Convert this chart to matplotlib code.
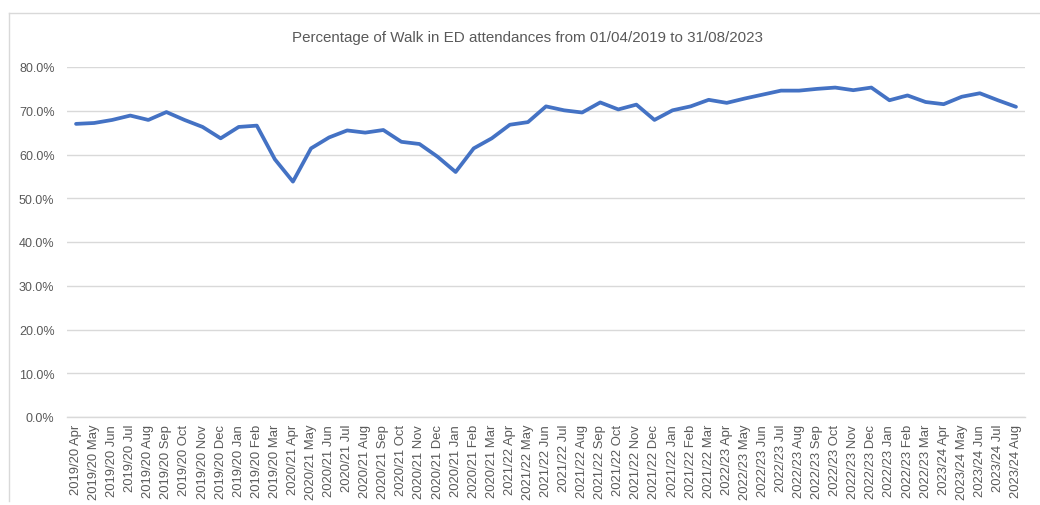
import matplotlib.pyplot as plt
from matplotlib.lines import Line2D
from matplotlib.ticker import PercentFormatter

# fiscal years and months for the category axis
fiscal_years = ["2019/20", "2020/21", "2021/22", "2022/23", "2023/24"]
months = ["Apr", "May", "Jun", "Jul", "Aug", "Sep", "Oct", "Nov", "Dec", "Jan", "Feb", "Mar"]
n_months = 53

labels = [f"{fy} {m}" for fy in fiscal_years for m in months][:n_months]

# percentage of walk in ED attendances
walk_in_pct = [
    67.0, 67.2, 67.9, 68.9, 67.9, 69.7, 67.9, 66.3, 63.7, 66.3, 66.6, 58.9,
    53.8, 61.4, 63.9, 65.5, 65.0, 65.6, 62.9, 62.4, 59.5, 56.0, 61.4, 63.7,
    66.8, 67.4, 71.0, 70.1, 69.6, 71.9, 70.3, 71.4, 67.9, 70.1, 71.0, 72.5,
    71.8, 72.8, 73.7, 74.6, 74.6, 75.0, 75.3, 74.7, 75.3, 72.4, 73.5, 72.0,
    71.5, 73.2, 74.0, 72.4, 70.9,
]

text_col = "#595959"
grid_col = "#D9D9D9"

plt.rcParams['font.family'] = ['Liberation Sans', 'DejaVu Sans']

fig = plt.figure(figsize=(10.4, 5.06), dpi=100)
ax = fig.add_axes([67 / 1040, 88 / 506, 958 / 1040, 350 / 506])

x = list(range(len(walk_in_pct)))
ax.plot(x, [v / 100 for v in walk_in_pct], color="#4472C4", linewidth=2.7,
        solid_joinstyle='round', solid_capstyle='round')

ax.set_xlim(-0.5, len(walk_in_pct) - 0.5)
ax.set_ylim(0, 0.8)
ax.set_yticks([i / 10 for i in range(9)])
ax.yaxis.set_major_formatter(PercentFormatter(1.0, decimals=1))
ax.set_xticks(x)
ax.set_xticklabels(labels, rotation=90, fontsize=9.4, color=text_col)
ax.tick_params(axis='y', labelsize=9, colors=text_col, length=0, pad=9)
ax.tick_params(axis='x', length=0, pad=5)

ax.grid(axis='y', color=grid_col, linewidth=1)
ax.set_axisbelow(True)
for s in ["top", "right", "left"]:
    ax.spines[s].set_visible(False)
ax.spines["bottom"].set_color(grid_col)
ax.spines["bottom"].set_linewidth(1)

fig.text(527 / 1040, 1 - 38 / 506, "Percentage of Walk in ED attendances from 01/04/2019 to 31/08/2023",
         ha='center', va='center', fontsize=10.9, color=text_col)

# chart area frame (left and top edges visible in the original)
fig.add_artist(Line2D([8.5 / 1040, 8.5 / 1040], [1 - 502 / 506, 1 - 14 / 506],
                      transform=fig.transFigure, color=grid_col, linewidth=1))
fig.add_artist(Line2D([8.5 / 1040, 1.0], [1 - 14 / 506, 1 - 14 / 506],
                      transform=fig.transFigure, color=grid_col, linewidth=1))

fig.savefig("out.png", dpi=100)
